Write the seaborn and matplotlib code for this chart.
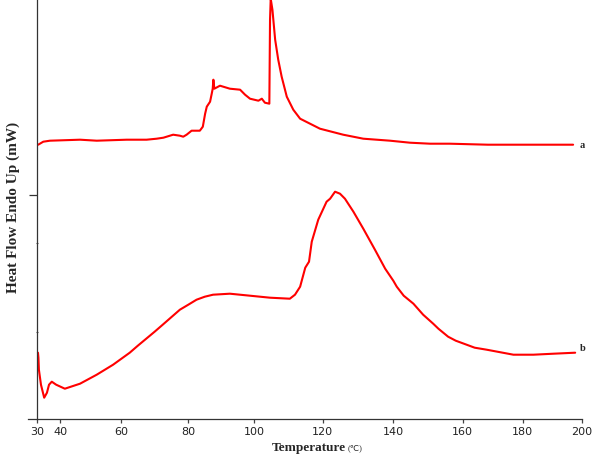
import matplotlib
matplotlib.use('Agg')
import matplotlib.pyplot as plt
import numpy as np
import pandas as pd
import seaborn as sns

# ── DSC traces (temperature in °C, heat flow in arbitrary mW units) ──────────
temp_a = [30.4, 32.6, 35.5, 46.5, 52.0, 61.7, 67.6, 70.6, 72.6, 75.5, 77.5, 78.5,
          79.5, 81.0, 83.5, 84.4, 85.1, 85.6, 86.6, 87.1, 87.4, 87.6, 87.9, 89.6,
          92.6, 95.7, 97.2, 98.7, 101.2, 102.2, 103.1, 104.4, 104.6, 104.8, 105.3,
          106.1, 107.0, 108.0, 109.5, 111.4, 113.4, 116.3, 119.2, 125.8, 131.5,
          139.1, 144.8, 150.6, 156.3, 168.4, 197.0]
heat_a = [27.4, 27.7, 27.8, 27.9, 27.8, 27.9, 27.9, 28.0, 28.1, 28.4, 28.3, 28.2,
          28.4, 28.8, 28.8, 29.2, 30.5, 31.2, 31.7, 32.5, 33.0, 33.9, 33.0, 33.3,
          33.0, 32.9, 32.4, 32.0, 31.8, 32.0, 31.6, 31.5, 39.9, 42.0, 40.9,
          37.9, 35.9, 34.2, 32.2, 30.9, 30.0, 29.5, 29.0, 28.4, 28.0,
          27.8, 27.6, 27.5, 27.5, 27.4, 27.4]

temp_b = [30.3, 30.5, 30.7, 31.6, 33.0, 34.2, 35.1, 36.3, 38.2, 41.5, 46.5, 52.0,
          57.4, 62.6, 65.0, 67.5, 70.0, 72.4, 77.5, 80.0, 82.5, 85.0, 87.5, 92.6,
          98.7, 104.6, 110.4, 111.9, 113.4, 114.9, 116.0, 116.8, 118.7, 121.1,
          122.1, 123.5, 124.9, 126.3, 128.7, 131.5, 134.8, 137.7, 140.0, 141.0,
          143.0, 145.8, 148.6, 151.5, 153.0, 155.8, 158.0, 161.3, 164.0, 168.0,
          176.9, 183.6, 190.4, 197.7]
heat_b = [6.6, 6.1, 4.9, 3.4, 2.1, 2.6, 3.4, 3.7, 3.4, 3.0, 3.5, 4.4,
          5.4, 6.6, 7.3, 8.0, 8.7, 9.4, 10.9, 11.4, 11.9, 12.2, 12.4, 12.5,
          12.3, 12.1, 12.0, 12.4, 13.2, 15.1, 15.7, 17.7, 19.9, 21.7,
          22.0, 22.7, 22.5, 22.0, 20.7, 19.0, 16.9, 15.0, 13.8, 13.2,
          12.3, 11.5, 10.4, 9.5, 9.0, 8.2, 7.8, 7.4, 7.1, 6.9,
          6.4, 6.4, 6.5, 6.6]

x_ticks = [30, 40, 60, 80, 100, 120, 140, 160, 180, 200]
curve_labels = ['a', 'b']
label_heat = [27.3, 7.0]

# the instrument's temperature axis is not evenly spaced: calibrate it
SCALE_T = [0, 30, 40, 60, 80, 100, 120, 140, 160, 180, 200, 300]
SCALE_PX = [-31.7, 37.3, 60.3, 121, 188.3, 254.3, 322.7, 393.3, 462.7, 522.7, 582, 878.5]


def _fwd(t):
    return np.interp(t, SCALE_T, SCALE_PX)


def _inv(p):
    return np.interp(p, SCALE_PX, SCALE_T)


df = pd.concat([
    pd.DataFrame({'Temperature': temp_a, 'Heat': heat_a, 'curve': 'a'}),
    pd.DataFrame({'Temperature': temp_b, 'Heat': heat_b, 'curve': 'b'}),
], ignore_index=True)

sns.set_style('ticks')
plt.rcParams['font.family'] = ['DejaVu Sans']

fig = plt.figure(figsize=(5.96, 4.62), dpi=100)
ax = fig.add_axes([28 / 596, 43.3 / 462, 554 / 596, 418.7 / 462])
ax.set_xscale('function', functions=(_fwd, _inv))

sns.lineplot(data=df, x='Temperature', y='Heat', units='curve', estimator=None,
             sort=False, color='#ff0000', linewidth=1.5, ax=ax, legend=False)

ax.set_xlim(25.96, 200)
ax.set_ylim(0, 41.87)
ax.set_xticks(x_ticks)
ax.set_xticklabels([str(t) for t in x_ticks])
ax.set_xticks([], minor=True)
ax.set_yticks([22.4])
ax.set_yticklabels([''])
ax.set_yticks([17.6, 8.7], minor=True)
ax.tick_params(axis='y', which='minor', length=1.5, width=0.8, color='#555', direction='inout')
ax.tick_params(axis='y', which='major', length=6, width=0.9, color='#333', direction='out')
ax.tick_params(axis='x', length=3, width=0.9, color='#444', pad=3,
               labelsize=8, labelcolor='#222')
ax.set_xlabel('')
ax.set_ylabel('')

sns.despine(ax=ax)
ax.spines['left'].set_position(('data', 30))
for s in ('left', 'bottom'):
    ax.spines[s].set_color('#333')
    ax.spines[s].set_linewidth(0.9)

for lab, h in zip(curve_labels, label_heat):
    ax.text(199.3, h, lab, ha='left', va='center', fontsize=7.5, fontweight='bold',
            family=['Liberation Serif', 'DejaVu Serif'], clip_on=False)

fig.text(346 / 596, 1 - 448 / 462, 'Temperature', ha='right', va='center',
         fontsize=9.5, fontweight='bold', family=['Liberation Serif', 'DejaVu Serif'])
fig.text(348 / 596, 1 - 449 / 462, '(℃)', ha='left', va='center',
         fontsize=6, family=['Liberation Serif', 'DejaVu Sans'])
fig.text(13 / 596, 1 - 207 / 462, 'Heat Flow Endo Up (mW)', ha='center', va='center',
         rotation=90, fontsize=11, fontweight='bold',
         family=['Liberation Serif', 'DejaVu Serif'])

fig.savefig('out.png', dpi=100)
